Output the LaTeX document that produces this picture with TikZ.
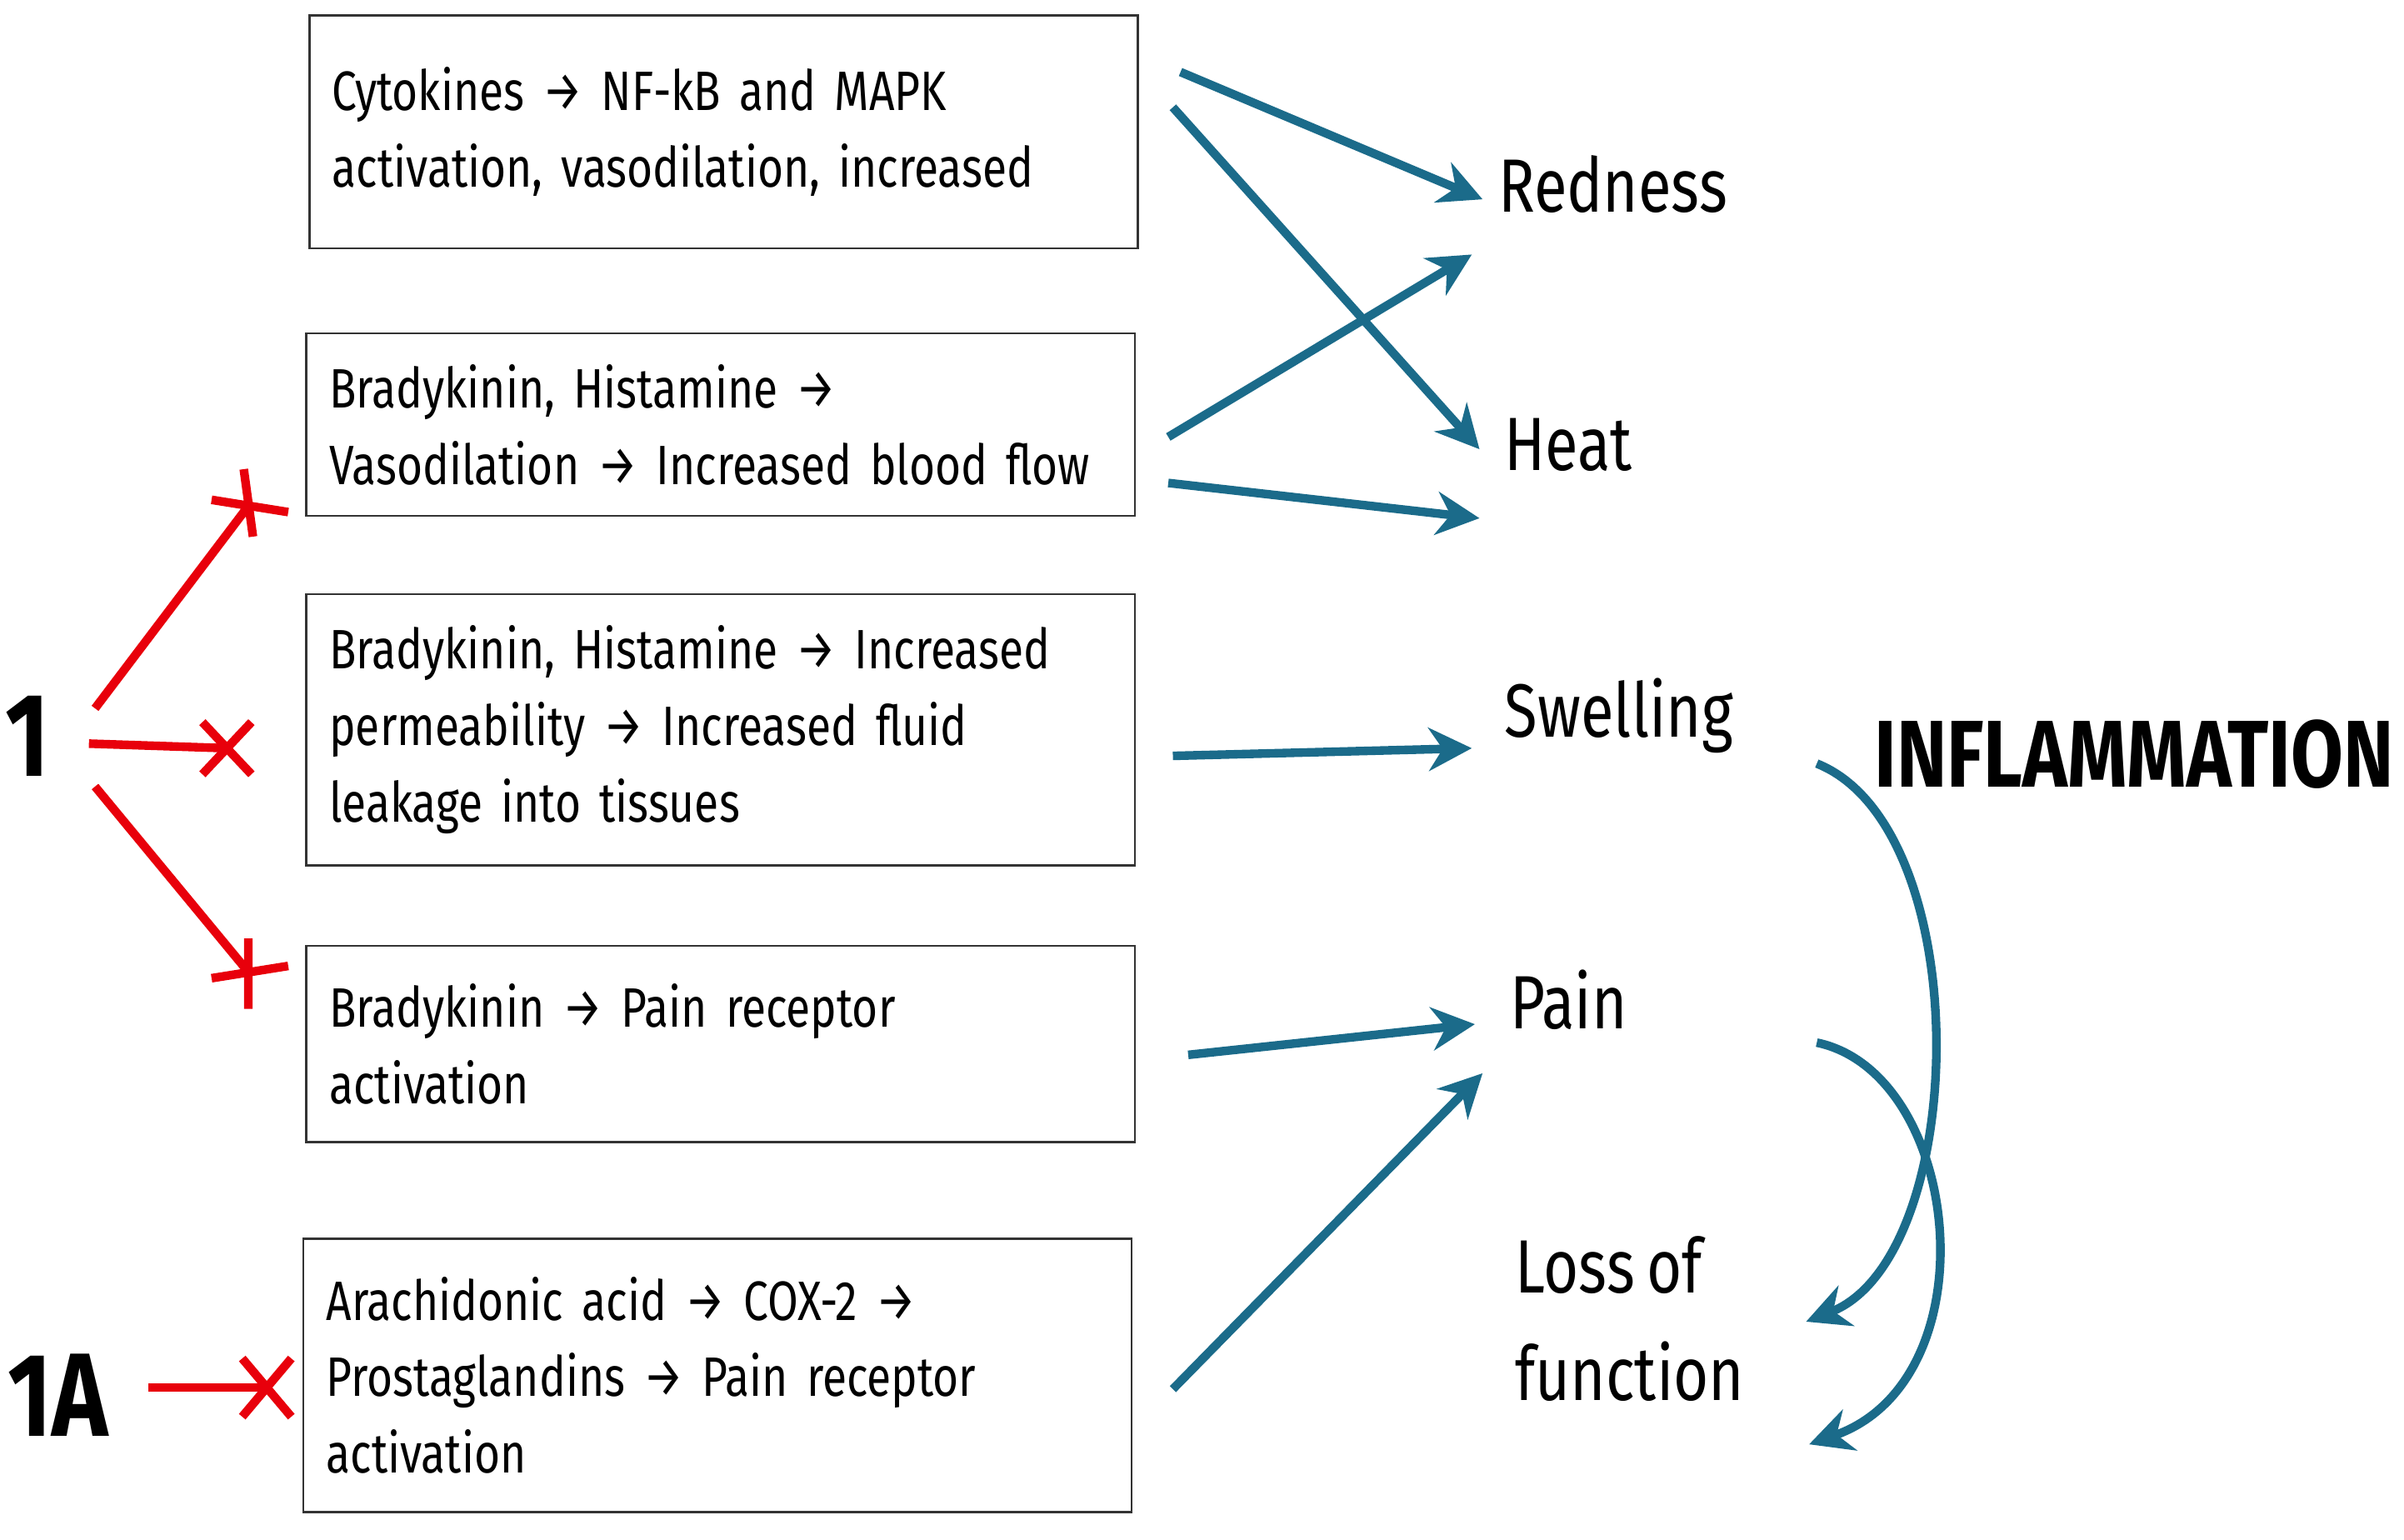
\documentclass[tikz,border=0pt]{standalone}
\usepackage{fontspec}
\setmainfont{Fira Sans}[FakeStretch=0.8,WordSpace=0.75]
\usetikzlibrary{arrows.meta}
\definecolor{teal}{HTML}{1B6B8A}
\definecolor{inhib}{HTML}{E8000B}
\tikzset{
  box/.style={draw=black!80, thin, text width=5.1cm, inner xsep=0.15cm, align=left,
    minimum width=5.4cm, font=\fontsize{10.3}{14.2}\selectfont},
  sign/.style={font=\fontsize{14}{16}\selectfont, anchor=center},
  act/.style={draw=teal, line width=1.6pt, -{Stealth[length=8pt,width=8pt]}},
  block/.style={draw=inhib, line width=1.6pt}
}
\begin{document}
\begin{tikzpicture}[x=0.01cm,y=-0.01cm]
\useasboundingbox (0,0) rectangle (1568,1004);
% boxes
\node[box, minimum height=1.52cm] (cyto) at (472,86) {Cytokines → NF-kB and MAPK\\activation, vasodilation, increased};
\node[box, minimum height=1.19cm] (vaso) at (470,277) {Bradykinin, Histamine →\\Vasodilation → Increased blood flow};
\node[box, minimum height=1.77cm] (perm) at (470,476) {Bradykinin, Histamine → Increased\\permeability → Increased fluid\\leakage into tissues};
\node[box, minimum height=1.28cm] (brady) at (470,681) {Bradykinin → Pain receptor\\activation};
\node[box, minimum height=1.78cm] (arach) at (468,897) {Arachidonic acid → COX-2 →\\Prostaglandins → Pain receptor\\activation};

% signs
\node[sign] (red) at (1052,120) {Redness};
\node[sign] (heat) at (1023,290) {Heat};
\node[sign] (swell) at (1056,467) {Swelling};
\node[sign] (pain) at (1023,652) {Pain};
\node[sign, align=left] (loss) at (1063,860) {Loss of\\[4pt]function};
\node[font=\bfseries\fontsize{17.6}{20}\selectfont] (infl) at (1392,492) {INFLAMMATION};
\node[font=\bfseries\fontsize{22}{24}\selectfont] (one) at (18,480) {1};
\node[font=\bfseries\fontsize{22}{24}\selectfont] (oneA) at (38,910) {1A};

% arrow ends
\coordinate (a1) at (770,47);   \coordinate (b1) at (967,130);
\coordinate (a2) at (765,70);   \coordinate (b2) at (965,293);
\coordinate (a3) at (762,285);  \coordinate (b3) at (960,166);
\coordinate (a4) at (762,315);  \coordinate (b4) at (965,338);
\coordinate (a5) at (765,493);  \coordinate (b5) at (960,488);
\coordinate (a6) at (775,688);  \coordinate (b6) at (962,668);
\coordinate (a7) at (765,906);  \coordinate (b7) at (967,700);
\draw[act] (a1) -- (b1);
\draw[act] (a2) -- (b2);
\draw[act] (a3) -- (b3);
\draw[act] (a4) -- (b4);
\draw[act] (a5) -- (b5);
\draw[act] (a6) -- (b6);
\draw[act] (a7) -- (b7);
\coordinate (c1) at (1185,498); \coordinate (d1) at (1178,862);
\coordinate (c2) at (1185,680); \coordinate (d2) at (1180,942);
\draw[act] (c1) .. controls (1290,540) and (1285,820) .. (d1);
\draw[act] (c2) .. controls (1280,700) and (1300,900) .. (d2);

% inhibitions
\coordinate (s1) at (62,462);  \coordinate (t1) at (162,330);
\coordinate (s2) at (58,485);  \coordinate (t2) at (148,488);
\coordinate (s3) at (62,513);  \coordinate (t3) at (162,634);
\coordinate (s4) at (97,905);  \coordinate (t4) at (174,905);
\draw[block] (s1) -- (t1);
\draw[block] ([shift={(-24,-4)}]t1) -- ([shift={(26,4)}]t1) ([shift={(-3,-24)}]t1) -- ([shift={(3,20)}]t1);
\draw[block] (s2) -- (t2);
\draw[block] ([shift={(-16,-17)}]t2) -- ([shift={(16,17)}]t2) ([shift={(-16,17)}]t2) -- ([shift={(16,-17)}]t2);
\draw[block] (s3) -- (t3);
\draw[block] ([shift={(-24,4)}]t3) -- ([shift={(26,-4)}]t3) ([shift={(0,-22)}]t3) -- ([shift={(0,24)}]t3);
\draw[block] (s4) -- (t4);
\draw[block] ([shift={(-16,-19)}]t4) -- ([shift={(16,19)}]t4) ([shift={(-16,19)}]t4) -- ([shift={(16,-19)}]t4);
\end{tikzpicture}
\end{document}
